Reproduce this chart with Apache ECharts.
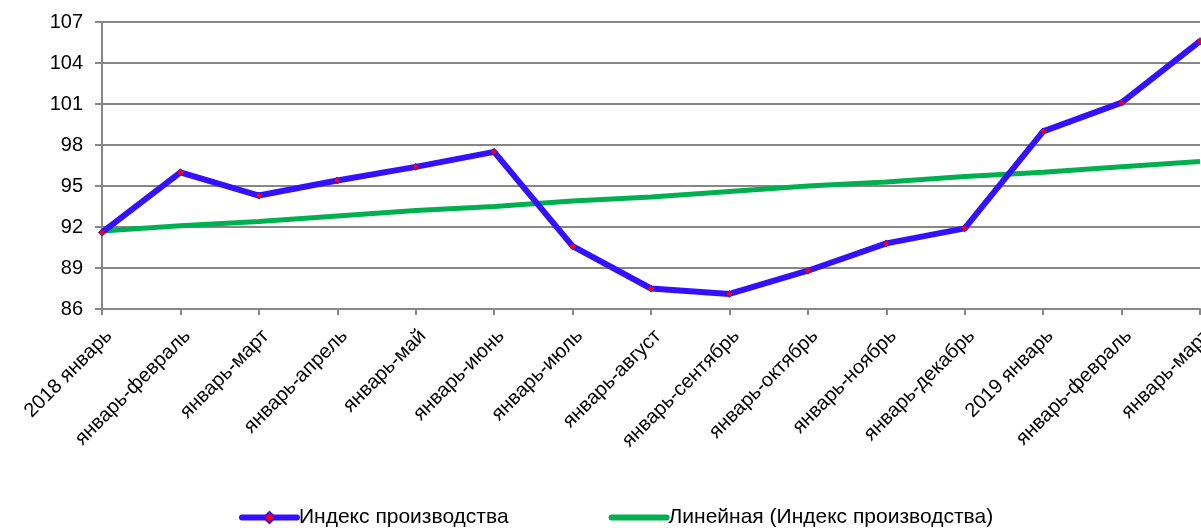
<!DOCTYPE html>
<html>
<head>
<meta charset="utf-8">
<script src="https://cdn.jsdelivr.net/npm/echarts@6/dist/echarts.min.js"></script>
<style>
html,body{margin:0;padding:0;background:#fff;}
#chart{width:1201px;height:528px;}
</style>
</head>
<body>
<div id="chart"></div>
<script>
const categories = ['2018 январь','январь-февраль','январь-март','январь-апрель','январь-май','январь-июнь','январь-июль','январь-август','январь-сентябрь','январь-октябрь','январь-ноябрь','январь-декабрь','2019 январь','январь-февраль','январь-март'];
const indexValues = [91.6, 96.0, 94.3, 95.4, 96.4, 97.5, 90.6, 87.5, 87.1, 88.8, 90.8, 91.9, 99.0, 101.1, 105.6];
const trendValues = [91.7, 92.1, 92.4, 92.8, 93.2, 93.5, 93.9, 94.2, 94.6, 95.0, 95.3, 95.7, 96.0, 96.4, 96.8];
const yTicks = [86, 89, 92, 95, 98, 101, 104, 107];
const seriesNames = ['Индекс производства', 'Линейная (Индекс производства)'];

const font = 'Liberation Sans, Arial, sans-serif';
const chart = echarts.init(document.getElementById('chart'), null, {renderer:'canvas'});
chart.setOption({
  animation: false,
  textStyle: {fontFamily: font},
  grid: {left: 102, right: 1, top: 22, bottom: 219, containLabel: false, outerBoundsMode: 'none'},
  xAxis: {
    type: 'category',
    data: categories,
    boundaryGap: false,
    axisLine: {lineStyle: {color: '#878787', width: 2}},
    axisTick: {show: true, length: 6, lineStyle: {color: '#878787', width: 2}},
    axisLabel: {rotate: 45, align: 'right', verticalAlign: 'top', fontSize: 20, color: '#000', fontFamily: font, margin: 17, interval: 0, hideOverlap: false},
    splitLine: {show: false}
  },
  yAxis: {
    type: 'value',
    min: yTicks[0],
    max: yTicks[yTicks.length - 1],
    interval: 3,
    axisLine: {show: true, lineStyle: {color: '#878787', width: 2}},
    axisTick: {show: true, length: 7, lineStyle: {color: '#878787', width: 2}},
    axisLabel: {fontSize: 20, color: '#000', fontFamily: font, margin: 19},
    splitLine: {show: true, lineStyle: {color: '#878787', width: 2}}
  },
  legend: {
    top: 502,
    left: 234,
    itemGap: 100,
    itemWidth: 55,
    itemHeight: 14,
    lineStyle: {width: 6, cap: 'round'},
    textStyle: {fontSize: 21, color: '#000', fontFamily: font, padding: [0, 0, 0, -3]},
    data: [
      {name: seriesNames[0]},
      {name: seriesNames[1], itemStyle: {opacity: 0}}
    ]
  },
  series: [
    {
      name: seriesNames[1],
      type: 'line',
      data: trendValues,
      symbol: 'none',
      lineStyle: {color: '#00B050', width: 5},
      itemStyle: {color: '#00B050'},
      z: 2
    },
    {
      name: seriesNames[0],
      type: 'line',
      data: indexValues,
      symbol: 'diamond',
      symbolSize: 7,
      showSymbol: true,
      lineStyle: {color: '#3311FF', width: 6},
      itemStyle: {color: '#FF0000', borderColor: '#3311FF', borderWidth: 1},
      z: 3
    }
  ]
});
</script>
</body>
</html>
